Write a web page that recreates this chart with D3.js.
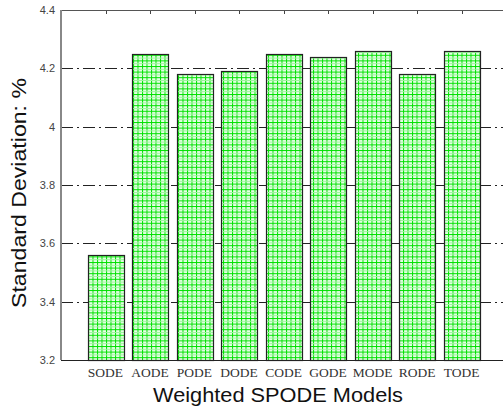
<!DOCTYPE html>
<html>
<head>
<meta charset="utf-8">
<script src="https://cdn.jsdelivr.net/npm/d3@7"></script>
<style>
  body { margin: 0; background: #fff; }
  .ytick text { font-family: Arial, "Liberation Sans", sans-serif; font-size: 11px; fill: #444; }
  .xtick text { font-family: "Times New Roman", "Liberation Serif", serif; font-size: 13.5px; fill: #333; }
  .lab { font-family: Arial, "Liberation Sans", sans-serif; fill: #111; }
</style>
</head>
<body>
<div class="viz"></div>
<script>
const models = ["SODE", "AODE", "PODE", "DODE", "CODE", "GODE", "MODE", "RODE", "TODE"];
const stdDev = [3.56, 4.25, 4.18, 4.19, 4.25, 4.24, 4.26, 4.18, 4.26];
const yTicks = [3.2, 3.4, 3.6, 3.8, 4, 4.2, 4.4];
const gridVals = [3.4, 3.6, 3.8, 4, 4.2];

const margin = { top: 10, bottom: 46, left: 61, right: -3 };
const W = 503, H = 406;
const width = W - margin.left - margin.right;
const height = H - margin.top - margin.bottom;

const svg = d3.select('.viz')
    .append('svg')
    .attr('width', W)
    .attr('height', H)
    .style('display', 'block');

// crosshatch fill
const defs = svg.append('defs');
const pat = defs.append('pattern')
    .attr('id', 'hatch')
    .attr('patternUnits', 'userSpaceOnUse')
    .attr('width', 4.5)
    .attr('height', 5.6);
pat.append('rect').attr('width', 4.5).attr('height', 5.6).attr('fill', '#e6ffe6');
pat.append('line').attr('x1', 0.5).attr('x2', 0.5).attr('y1', 0).attr('y2', 5.6)
    .attr('stroke', '#00e000').attr('stroke-width', 1);
pat.append('line').attr('x1', 0).attr('x2', 4.5).attr('y1', 0.5).attr('y2', 0.5)
    .attr('stroke', '#00e000').attr('stroke-width', 1);
pat.append('line').attr('x1', 0).attr('x2', 4.5).attr('y1', 3.3).attr('y2', 3.3)
    .attr('stroke', '#9cf59c').attr('stroke-width', 1);

const g = svg.append('g')
    .attr('transform', `translate(${margin.left},${margin.top})`);

// x: positions 0..10 like matlab bar, bars at 1..9
const x = d3.scaleLinear().domain([0, 10]).range([0, width]);
const y = d3.scaleLinear().domain([3.2, 4.4]).range([height, 0]);
const step = x(1) - x(0);
const barW = step * 0.8;

// grid
g.selectAll('.grid')
    .data(gridVals)
    .enter()
    .append('line')
    .attr('class', 'grid')
    .attr('x1', 0)
    .attr('x2', width)
    .attr('y1', d => Math.round(y(d)) + 0.5)
    .attr('y2', d => Math.round(y(d)) + 0.5)
    .attr('stroke', '#222')
    .attr('stroke-width', 1)
    .attr('stroke-dasharray', '12,4,2,4');

// bars
g.selectAll('.bar')
    .data(models)
    .enter()
    .append('rect')
    .attr('class', 'bar')
    .attr('x', (d, i) => Math.round(x(i + 1) - barW / 2) + 0.5)
    .attr('y', (d, i) => Math.round(y(stdDev[i])) + 0.5)
    .attr('width', Math.round(barW))
    .attr('height', (d, i) => Math.round(height - y(stdDev[i])))
    .attr('fill', 'url(#hatch)')
    .attr('stroke', '#222')
    .attr('stroke-width', 1.2);

// top ticks at bar centers
g.selectAll('.ttick')
    .data(models)
    .enter()
    .append('line')
    .attr('x1', (d, i) => Math.round(x(i + 1)) + 0.5)
    .attr('x2', (d, i) => Math.round(x(i + 1)) + 0.5)
    .attr('y1', 0)
    .attr('y2', 4)
    .attr('stroke', '#444');

// axes frame
g.append('line').attr('x1', 0).attr('x2', width).attr('y1', 0.5).attr('y2', 0.5)
    .attr('stroke', '#555');
g.append('line').attr('x1', 0).attr('x2', width).attr('y1', height + 0.5).attr('y2', height + 0.5)
    .attr('stroke', '#222');
g.append('line').attr('x1', 0).attr('x2', 0).attr('y1', 0).attr('y2', height)
    .attr('stroke', '#888').attr('stroke-width', 2);

// y tick labels
g.selectAll('.ytick')
    .data(yTicks)
    .enter()
    .append('g')
    .attr('class', 'ytick')
    .append('text')
    .attr('x', -6)
    .attr('y', d => y(d))
    .attr('dy', '0.35em')
    .attr('text-anchor', 'end')
    .text(d => d3.format('')(d));

// x tick labels
g.selectAll('.xtick')
    .data(models)
    .enter()
    .append('g')
    .attr('class', 'xtick')
    .append('text')
    .attr('x', (d, i) => x(i + 1))
    .attr('y', height + 17)
    .attr('text-anchor', 'middle')
    .text(d => d);

svg.append('text')
    .attr('class', 'lab')
    .attr('x', 153)
    .attr('y', 402)
    .style('font-size', '20px')
    .attr('textLength', 250)
    .attr('lengthAdjust', 'spacingAndGlyphs')
    .text('Weighted SPODE Models');

svg.append('text')
    .attr('class', 'lab')
    .attr('transform', 'translate(26,308) rotate(-90)')
    .style('font-size', '21px')
    .attr('textLength', 230)
    .attr('lengthAdjust', 'spacingAndGlyphs')
    .text('Standard Deviation: %');
</script>
</body>
</html>
